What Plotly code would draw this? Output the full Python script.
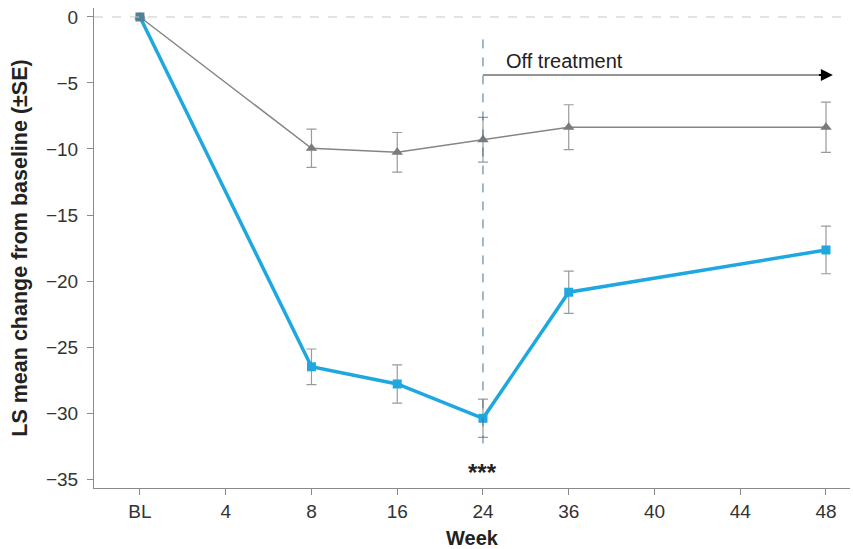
import plotly.graph_objects as go

# Tick categories on the x axis (equally spaced visits)
week_labels = ["BL", "4", "8", "16", "24", "36", "40", "44", "48"]

# Visits with observations
visit_weeks = ["BL", "8", "16", "24", "36", "48"]

# Active treatment arm: LS mean change and SE
active_mean = [0, -26.5, -27.8, -30.4, -20.85, -17.65]
active_se = [0, 1.35, 1.45, 1.45, 1.6, 1.8]

# Comparator arm: LS mean change and SE
control_mean = [0, -9.95, -10.25, -9.3, -8.35, -8.35]
control_se = [0, 1.45, 1.5, 1.7, 1.7, 1.9]

y_ticks = [0, -5, -10, -15, -20, -25, -30, -35]

xpos = [week_labels.index(w) for w in visit_weeks]
off_start = week_labels.index("24")
off_end = week_labels.index("48")

BLUE = "#1ea8df"
GREY = "#858585"
ERR = "#9a9a9a"
FONT = "Liberation Sans, Arial, sans-serif"
TXT = "#222222"

fig = go.Figure()

# zero reference line
fig.add_hline(y=0, line=dict(color="#c8c8c8", width=1, dash="dash"))

# end of treatment marker at week 24
fig.add_shape(type="line", x0=off_start, x1=off_start, y0=-1.7, y1=-32.3,
              xref="x", yref="y", line=dict(color="#4f6f8c", width=1, dash="dash"))

fig.add_trace(go.Scatter(
    x=xpos, y=control_mean, mode="lines+markers",
    line=dict(color=GREY, width=1.5),
    marker=dict(symbol="triangle-up", size=10, color="#7a7a7a"),
    error_y=dict(type="data", array=control_se, color=ERR, thickness=1.2, width=5),
    showlegend=False,
))

fig.add_trace(go.Scatter(
    x=xpos, y=active_mean, mode="lines+markers",
    line=dict(color=BLUE, width=3.5),
    marker=dict(symbol="square", size=9,
                color=["#4f8299"] + [BLUE] * (len(xpos) - 1)),
    error_y=dict(type="data", array=active_se, color=ERR, thickness=1.2, width=5),
    showlegend=False,
))

# "Off treatment" arrow
fig.add_shape(type="line", x0=off_start, x1=off_end, y0=-4.4, y1=-4.4,
              xref="x", yref="y", line=dict(color="#707070", width=1.5))
fig.add_annotation(x=off_end + 0.08, y=-4.4, ax=off_end - 0.1, ay=-4.4,
                   xref="x", yref="y", axref="x", ayref="y",
                   text="", showarrow=True, arrowhead=2, arrowsize=1.2,
                   arrowwidth=2, arrowcolor="#000000")
fig.add_annotation(x=off_start + 0.25, y=-3.35, xref="x", yref="y",
                   text="Off treatment", showarrow=False, xanchor="left",
                   font=dict(family=FONT, size=20, color=TXT))

# significance marker at week 24
fig.add_annotation(x=off_start, y=-34.5, xref="x", yref="y", text="<b>***</b>",
                   showarrow=False, font=dict(family=FONT, size=24, color=TXT))

fig.update_xaxes(
    range=[-0.536, 8.28],
    tickmode="array", tickvals=list(range(len(week_labels))), ticktext=week_labels,
    showgrid=False, zeroline=False, showline=True, linecolor="#8a8a8a", linewidth=1,
    ticks="outside", ticklen=6, tickcolor="#8a8a8a",
    tickfont=dict(family=FONT, size=19, color="#333333"),
    title=dict(text="<b>Week</b>", font=dict(family=FONT, size=20, color=TXT),
               standoff=10),
)
fig.update_yaxes(
    range=[-35.68, 0.68],
    tickmode="array", tickvals=y_ticks,
    showgrid=False, zeroline=False, showline=True, linecolor="#8a8a8a", linewidth=1,
    ticks="outside", ticklen=6, tickcolor="#8a8a8a", ticklabelstandoff=5,
    tickfont=dict(family=FONT, size=19, color="#333333"),
    title=dict(text="<b>LS mean change from baseline (±SE)</b>",
               font=dict(family=FONT, size=21.5, color=TXT), standoff=12),
)

fig.update_layout(
    width=853, height=549,
    margin=dict(l=94, r=3, t=8, b=61),
    plot_bgcolor="white", paper_bgcolor="white",
    font=dict(family=FONT),
)

fig.write_html("out.html")
